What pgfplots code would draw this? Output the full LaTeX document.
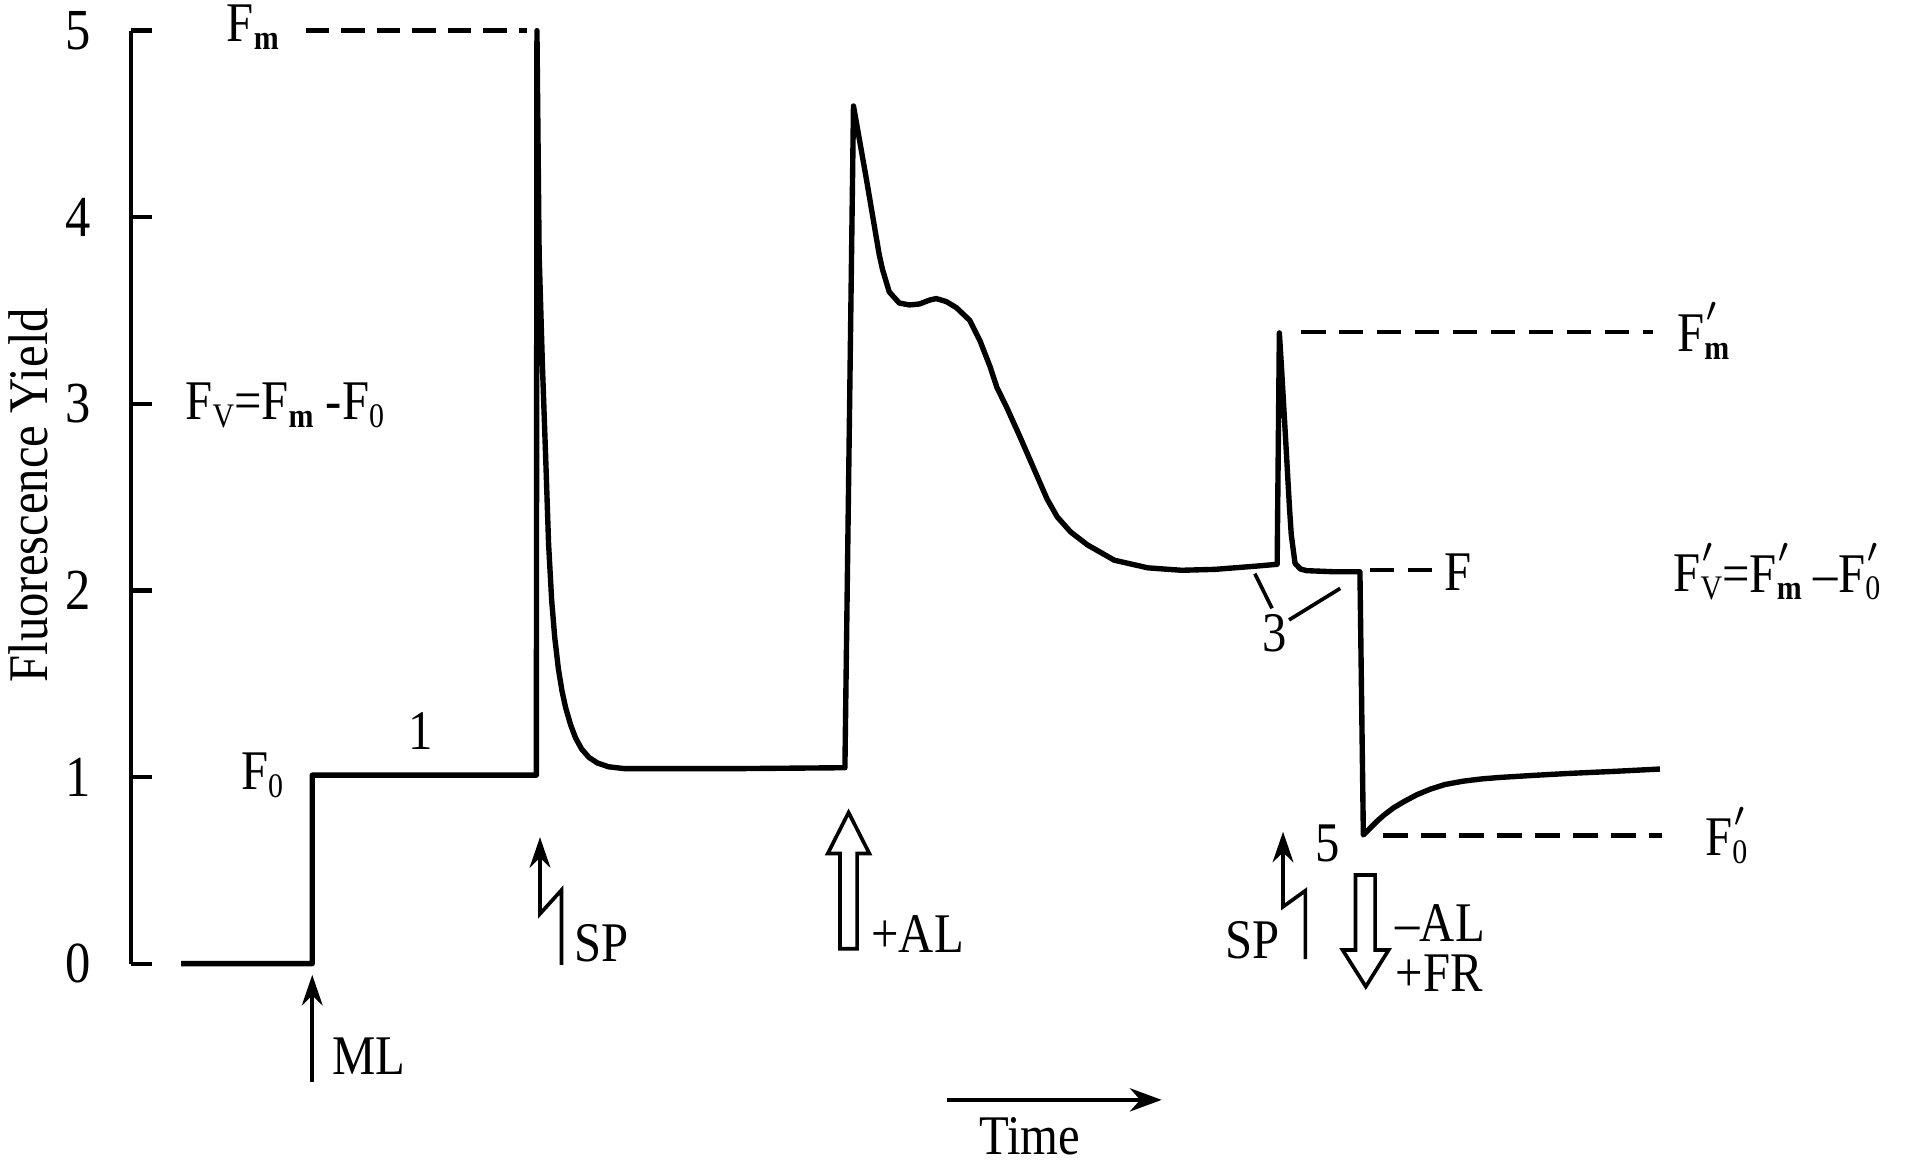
\documentclass[border=0pt]{standalone}
\usepackage{fontspec}
\setmainfont[FakeStretch=0.87]{Liberation Serif}
\usepackage{pgfplots}
\pgfplotsset{compat=1.18}
\usetikzlibrary{arrows.meta}
\newcommand{\sub}[1]{\raisebox{-0.3ex}{\fontsize{8}{8}\selectfont #1}}
\newcommand{\Fs}[1]{F\sub{#1}}
\newcommand{\Fp}[1]{F\makebox[0pt][l]{\raisebox{1.15ex}{\fontsize{8.5}{8}\selectfont\kern0.06em$\prime$}}\sub{#1}}
\begin{document}
\fontsize{13}{15}\selectfont
\begin{tikzpicture}
\begin{axis}[
  scale only axis, width=14.61cm, height=7.62cm,
  xmin=107, xmax=1568, ymin=0, ymax=5,
  clip=false,
  axis x line=none, axis y line*=left,
  axis line style={line width=1pt, black},
  ytick={0,1,2,3,4,5},
  tick align=inside, major tick length=0.17cm,
  tick style={line width=1pt, black},
  yticklabel style={anchor=east, xshift=-0.17cm, font=\fontsize{13.5}{15}\selectfont},
  /pgf/number format/assume math mode=true,
]
% main trace
\addplot[black, line width=1.25pt, line join=round] coordinates {
(148,0) (255,0) (255,1.01) (438,1.01) (438.5,5.0) (440.3,3.8) (443,3.2)
(445.7,2.7) (448,2.25) (450.5,1.95) (453,1.75) (456,1.58) (459,1.46) (462,1.37)
(466,1.28) (470,1.21) (475,1.15) (481,1.105) (488,1.075) (497,1.055) (510,1.045)
(600,1.045) (690,1.05) (697,4.596) (707.4,4.21) (718,3.80) (720.7,3.72)
(726.2,3.60) (734.4,3.54) (742.7,3.53) (750.9,3.535) (759.1,3.556) (764.6,3.564)
(772.8,3.548) (781.1,3.515) (792,3.447) (800.3,3.338) (808.5,3.20) (814,3.09)
(822.2,2.98) (833.2,2.82) (844.2,2.654) (855.1,2.49) (863.4,2.394) (874.4,2.313)
(888.1,2.244) (910,2.162) (937.5,2.121) (964.9,2.108) (992.4,2.113) (1025.3,2.13)
(1043,2.14) (1044.8,3.38) (1046.5,3.2) (1050,2.8) (1053,2.45) (1054.5,2.3)
(1057.6,2.145) (1062,2.115) (1067,2.106) (1090,2.10) (1110.6,2.10) (1113.4,0.69)
(1118,0.72) (1124,0.76) (1130,0.795) (1138,0.835) (1147,0.87) (1157,0.905)
(1168,0.935) (1180,0.96) (1195,0.978) (1210,0.99) (1225,0.998) (1250,1.008)
(1280,1.019) (1320,1.031) (1355.6,1.043)
};
% dashed reference levels
\addplot[black, line width=1pt, dash pattern=on 0.19cm off 0.1cm] coordinates {(249.7,5.0) (430.3,5.0)};
\addplot[black, line width=1pt, dash pattern=on 0.2cm off 0.11cm] coordinates {(1062.5,3.386) (1350,3.386)};
\addplot[black, line width=1pt, dash pattern=on 0.2cm off 0.11cm] coordinates {(1118.8,2.11) (1173.3,2.11)};
\addplot[black, line width=1pt, dash pattern=on 0.2cm off 0.11cm] coordinates {(1129.7,0.686) (1357,0.686)};
% "3" pointer lines
\addplot[black, line width=0.85pt] coordinates {(1024.8,2.09) (1038.8,1.904)};
\addplot[black, line width=0.85pt] coordinates {(1094.5,2.011) (1052.7,1.842)};

% coordinates for bounding box
\coordinate (tl) at (axis cs:0,5.164);
\coordinate (br) at (axis cs:1568,-1.109);

% labels
\node[rotate=90] at (axis cs:23,2.51) {Fluorescence Yield};
\node at (axis cs:206.5,5.02) {\Fs{\textbf{m}}};
\node at (axis cs:214,1.01) {\Fs{0}};
\node at (axis cs:343.5,1.245) {1};
\node[anchor=west, inner sep=0pt] at (axis cs:150.8,2.99) {\Fs{V}=\Fs{\textbf{m}} -\Fs{0}};
\node at (axis cs:1040.6,1.77) {3};
\node at (axis cs:1084,0.645) {5};
\node[anchor=west, inner sep=0pt] at (axis cs:1369,3.39) {\Fp{\textbf{m}}};
\node at (axis cs:1191,2.10) {F};
\node[anchor=west, inner sep=0pt] at (axis cs:1366,2.10) {\Fp{V}=\Fp{\textbf{m}} –\Fp{0}};
\node[anchor=west, inner sep=0pt] at (axis cs:1392,0.686) {\Fp{0}};

% ML arrow
\draw[line width=0.85pt, -{Stealth[length=0.25cm, width=0.17cm]}] (axis cs:255,-0.633) -- (axis cs:255,-0.06);
\node at (axis cs:301,-0.495) {ML};
% SP arrows (lightning)
\draw[line width=0.85pt, {Stealth[length=0.25cm, width=0.17cm]}-] (axis cs:441,0.678) -- (axis cs:441,0.267) -- (axis cs:458.5,0.394) -- (axis cs:458.5,-0.007);
\node at (axis cs:491.6,0.11) {SP};
\draw[line width=0.85pt, {Stealth[length=0.25cm, width=0.17cm]}-] (axis cs:1047.8,0.707) -- (axis cs:1047.8,0.305) -- (axis cs:1066,0.391) -- (axis cs:1066,0.024);
\node at (axis cs:1022.6,0.127) {SP};
% hollow arrows
\draw[line width=0.85pt, line join=miter] (axis cs:686,0.08) -- (axis cs:700,0.08) -- (axis cs:700,0.59) -- (axis cs:710,0.59) -- (axis cs:693,0.81) -- (axis cs:676,0.59) -- (axis cs:686,0.59) -- cycle;
\node[anchor=west, inner sep=0pt] at (axis cs:711,0.157) {+AL};
\draw[line width=0.85pt, line join=miter] (axis cs:1107,0.475) -- (axis cs:1123,0.475) -- (axis cs:1123,0.073) -- (axis cs:1134,0.073) -- (axis cs:1115.4,-0.123) -- (axis cs:1096.5,0.073) -- (axis cs:1107,0.073) -- cycle;
\node[anchor=west, inner sep=0pt] at (axis cs:1139,0.216) {–AL};
\node[anchor=west, inner sep=0pt] at (axis cs:1139,-0.052) {+FR};
% Time arrow
\draw[line width=0.85pt, -{Stealth[length=0.26cm, width=0.19cm]}] (axis cs:773,-0.73) -- (axis cs:948.7,-0.73);
\node at (axis cs:841,-0.927) {Time};
\end{axis}
\pgfresetboundingbox
\path[use as bounding box] (tl) rectangle (br);
\end{tikzpicture}
\end{document}
